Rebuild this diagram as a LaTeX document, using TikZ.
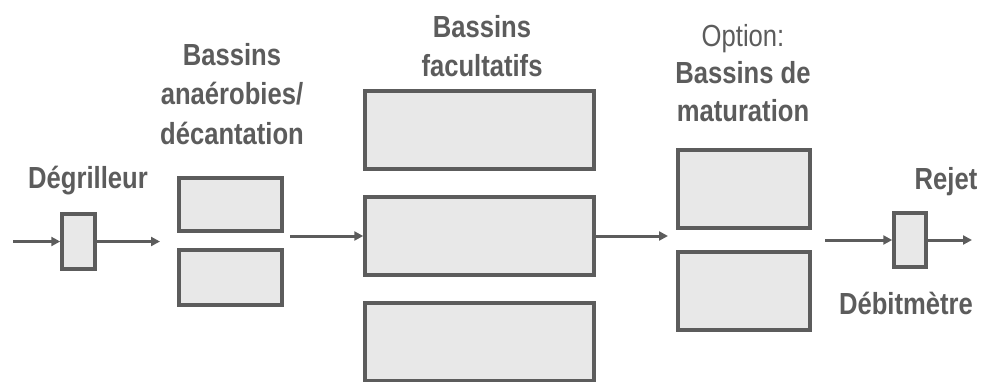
\documentclass[tikz,border=0pt]{standalone}
\usepackage{fontspec}
\setmainfont[FakeStretch=0.84]{Liberation Sans}
\usetikzlibrary{arrows.meta}
\definecolor{ink}{HTML}{5C5C5C}
\definecolor{basin}{HTML}{E8E8E8}
\tikzset{
	box/.style={draw=ink,fill=basin,line width=3.5pt,inner sep=0pt},
	lbl/.style={text=ink,font=\fontsize{30.5}{39.5}\selectfont\bfseries,align=center,inner sep=0pt},
	flow/.style={draw=ink,line width=3pt,->}
}
\begin{document}
\begin{tikzpicture}[x=1pt,y=-1pt,>={Triangle[length=9pt,width=9pt]}]
		
		\useasboundingbox (0,0) rectangle (983,381);
		
		\node(dg) at (78.5,241.5)[box,minimum width=33pt,minimum height=55pt]{};
		\node(an1) at (230.5,204.5)[box,minimum width=103pt,minimum height=53pt]{};
		\node(an2) at (230.5,277.5)[box,minimum width=103pt,minimum height=55pt]{};
		\node(f1) at (479.5,130)[box,minimum width=229pt,minimum height=78pt]{};
		\node(f2) at (479.5,236)[box,minimum width=229pt,minimum height=78pt]{};
		\node(f3) at (479.5,342)[box,minimum width=229pt,minimum height=78pt]{};
		\node(m1) at (744,189)[box,minimum width=132pt,minimum height=78pt]{};
		\node(m2) at (744,291)[box,minimum width=132pt,minimum height=78pt]{};
		\node(deb) at (910,240)[box,minimum width=32pt,minimum height=54pt]{};
		
		\coordinate(in) at (13,241.5);
		\coordinate(a) at (160,241.5);
		\coordinate(b) at (290,236);
		\coordinate(c) at (668,236);
		\coordinate(d) at (825,240);
		\coordinate(out) at (972,240);
		
		\draw[flow] (in) -- (dg);
		\draw[flow] (dg) -- (a);
		\draw[flow] (b) -- (f2);
		\draw[flow] (f2) -- (c);
		\draw[flow] (d) -- (deb);
		\draw[flow] (deb) -- (out);
		
		\node(tdg) at (88,188)[lbl,anchor=base]{Dégrilleur};
		\node(tan) at (232,43)[lbl,anchor=north]{Bassins\\anaérobies/\\décantation};
		\node(tfac) at (482,15)[lbl,anchor=north]{Bassins\\facultatifs};
		\node(tmat) at (743,24)[lbl,anchor=north,font=\fontsize{30.5}{37.5}\selectfont\bfseries]{{\mdseries Option:}\\Bassins de\\maturation};
		\node(trej) at (946,189)[lbl,anchor=base]{Rejet};
		\node(tdeb) at (906,314)[lbl,anchor=base]{Débitmètre};
		
	\end{tikzpicture}
\end{document}
